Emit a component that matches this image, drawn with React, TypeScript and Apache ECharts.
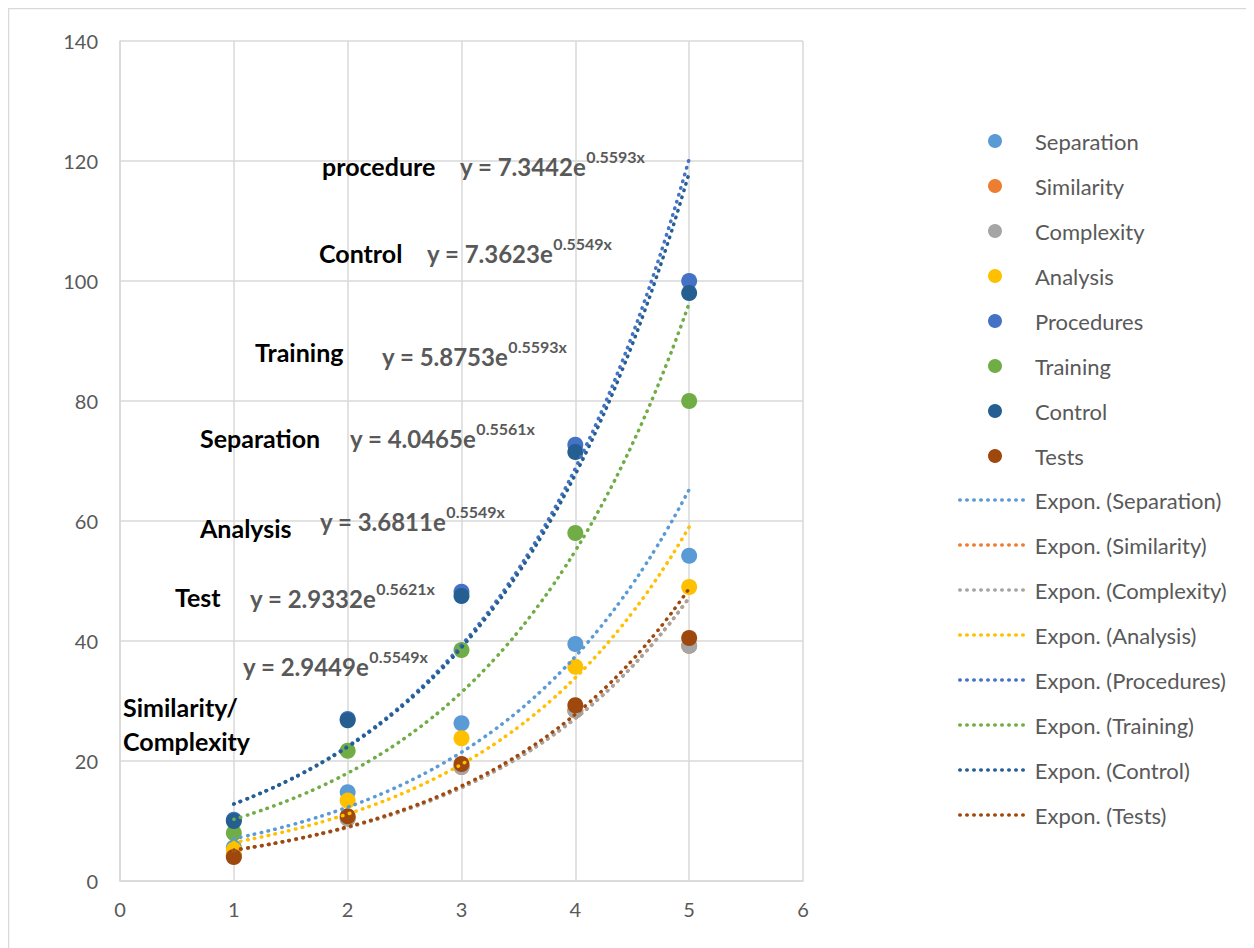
import React, { useEffect, useRef } from "react";
import * as echarts from "echarts";

const xValues = [1, 2, 3, 4, 5];
const seriesNames = ["Separation", "Similarity", "Complexity", "Analysis", "Procedures", "Training", "Control", "Tests"];
const separation = [5.6, 14.8, 26.3, 39.5, 54.2];
const similarity = [4.2, 10.4, 19.0, 28.4, 39.2];
const complexity = [4.2, 10.4, 19.0, 28.4, 39.2];
const analysis = [5.2, 13.4, 23.8, 35.7, 49.0];
const procedures = [10.2, 27.0, 48.2, 72.7, 100.0];
const training = [8.0, 21.7, 38.5, 58.0, 80.0];
const control = [10.0, 26.8, 47.5, 71.5, 98.0];
const tests = [4.0, 10.8, 19.5, 29.3, 40.5];
const seriesValues = [separation, similarity, complexity, analysis, procedures, training, control, tests];
const seriesColors = ["#5B9BD5", "#ED7D31", "#A5A5A5", "#FFC000", "#4472C4", "#70AD47", "#255E91", "#9E480E"];
// Trendline equations shown on the chart: y = a * e^(b x)
const trendA = [4.0465, 2.9449, 2.9449, 3.6811, 7.3442, 5.8753, 7.3623, 2.9332];
const trendB = [0.5561, 0.5549, 0.5549, 0.5549, 0.5593, 0.5593, 0.5549, 0.5621];
const xTicks = [0, 1, 2, 3, 4, 5, 6];
const yTicks = [0, 20, 40, 60, 80, 100, 120, 140];

const labelTexts = ["procedure", "Control", "Training", "Separation", "Analysis", "Test", "Similarity/", "Complexity"];
const equationCoef = ["7.3442", "7.3623", "5.8753", "4.0465", "3.6811", "2.9332", "2.9449"];
const equationExp = ["0.5593x", "0.5549x", "0.5593x", "0.5561x", "0.5549x", "0.5621x", "0.5549x"];

const FONT = "Lato, 'Open Sans', sans-serif";

export default function App() {
  const ref = useRef<HTMLDivElement>(null);
  useEffect(() => {
    if (!ref.current) return;
    const chart = echarts.init(ref.current, undefined, { renderer: "svg" });

    const scatterSeries = seriesNames.map((name, i) => ({
      type: "scatter",
      name,
      data: xValues.map((x, j) => [x, seriesValues[i][j]]),
      symbol: "circle",
      symbolSize: 16,
      itemStyle: { color: seriesColors[i], opacity: 1 },
      z: 2,
    }));

    const trendSeries = seriesNames.map((name, i) => {
      const pts: number[][] = [];
      for (let k = 0; k <= 40; k++) {
        const x = 1 + k * 0.1;
        pts.push([x, trendA[i] * Math.exp(trendB[i] * x)]);
      }
      return {
        type: "line",
        name: `Expon. (${name})`,
        data: pts,
        showSymbol: false,
        symbol: "none",
        smooth: true,
        lineStyle: { color: seriesColors[i], width: 3.5, type: [0.5, 6.5], cap: "round" },
        itemStyle: { color: seriesColors[i] },
        z: 3,
      };
    });

    // annotation positions in div coords (page - 8)
    const labelPos = [
      [314, 158], [311, 245], [247, 344], [192, 430], [192, 520], [167, 589], [115, 699], [115, 733],
    ];
    const eqPos = [
      [452, 155], [419, 242], [374, 345], [342, 427], [312, 510], [242, 587], [235, 655],
    ];

    const graphics: any[] = [
      {
        type: "rect",
        silent: true,
        shape: { x: 0.5, y: 0.5, width: 1400, height: 1100 },
        style: { fill: "none", stroke: "#d9d9d9", lineWidth: 1.5 },
        z: 0,
      },
    ];
    labelTexts.forEach((t, i) => {
      graphics.push({
        type: "text",
        x: labelPos[i][0],
        y: labelPos[i][1],
        style: {
          text: t,
          fill: "#000000",
          font: `bold 25px ${FONT}`,
          verticalAlign: "middle",
          align: "left",
        },
        z: 10,
      });
    });
    equationCoef.forEach((c, i) => {
      graphics.push({
        type: "text",
        x: eqPos[i][0],
        y: eqPos[i][1],
        style: {
          text: `{m|y = ${c}e}{s|${equationExp[i]}}`,
          verticalAlign: "middle",
          align: "left",
          rich: {
            m: { fontSize: 24, fontWeight: "bold", fontFamily: FONT, fill: "#595959", lineHeight: 30, verticalAlign: "bottom" },
            s: { fontSize: 16, fontWeight: "bold", fontFamily: FONT, fill: "#595959", lineHeight: 26, verticalAlign: "top" },
          },
        },
        z: 10,
      });
    });

    const legendText = { color: "#595959", fontSize: 22, fontFamily: FONT, lineHeight: 20 };

    chart.setOption({
      animation: false,
      backgroundColor: "#ffffff",
      textStyle: { fontFamily: FONT },
      grid: { left: 112, top: 33, right: 451, bottom: 67, containLabel: false },
      xAxis: {
        type: "value",
        min: xTicks[0],
        max: xTicks[xTicks.length - 1],
        interval: 1,
        axisLine: { show: true, lineStyle: { color: "#d9d9d9", width: 1.5 } },
        axisTick: { show: false },
        splitLine: { show: true, lineStyle: { color: "#d9d9d9", width: 1.5 } },
        axisLabel: { color: "#595959", fontSize: 20, fontFamily: FONT, margin: 18 },
      },
      yAxis: {
        type: "value",
        min: yTicks[0],
        max: yTicks[yTicks.length - 1],
        interval: 20,
        axisLine: { show: true, lineStyle: { color: "#d9d9d9", width: 1.5 } },
        axisTick: { show: false },
        splitLine: { show: true, lineStyle: { color: "#d9d9d9", width: 1.5 } },
        axisLabel: { color: "#595959", fontSize: 20, fontFamily: FONT, margin: 22 },
      },
      legend: [
        {
          orient: "vertical",
          left: 975,
          top: 117,
          itemWidth: 14,
          itemHeight: 14,
          itemGap: 23,
          icon: "circle",
          data: seriesNames,
          textStyle: { ...legendText, padding: [0, 0, 0, 28] },
        },
        {
          orient: "vertical",
          left: 945,
          top: 476,
          itemWidth: 70,
          itemHeight: 14,
          itemGap: 23,
          itemStyle: { opacity: 0, color: "transparent", borderWidth: 0 },
          lineStyle: { width: 3.5, type: [0.5, 6.5], cap: "round" },
          data: seriesNames.map((n) => `Expon. (${n})`),
          textStyle: legendText,
        },
      ],
      graphic: graphics,
      series: [...scatterSeries, ...trendSeries],
    });
    return () => chart.dispose();
  }, []);
  return <div ref={ref} style={{ width: 1246, height: 940 }} />;
}
